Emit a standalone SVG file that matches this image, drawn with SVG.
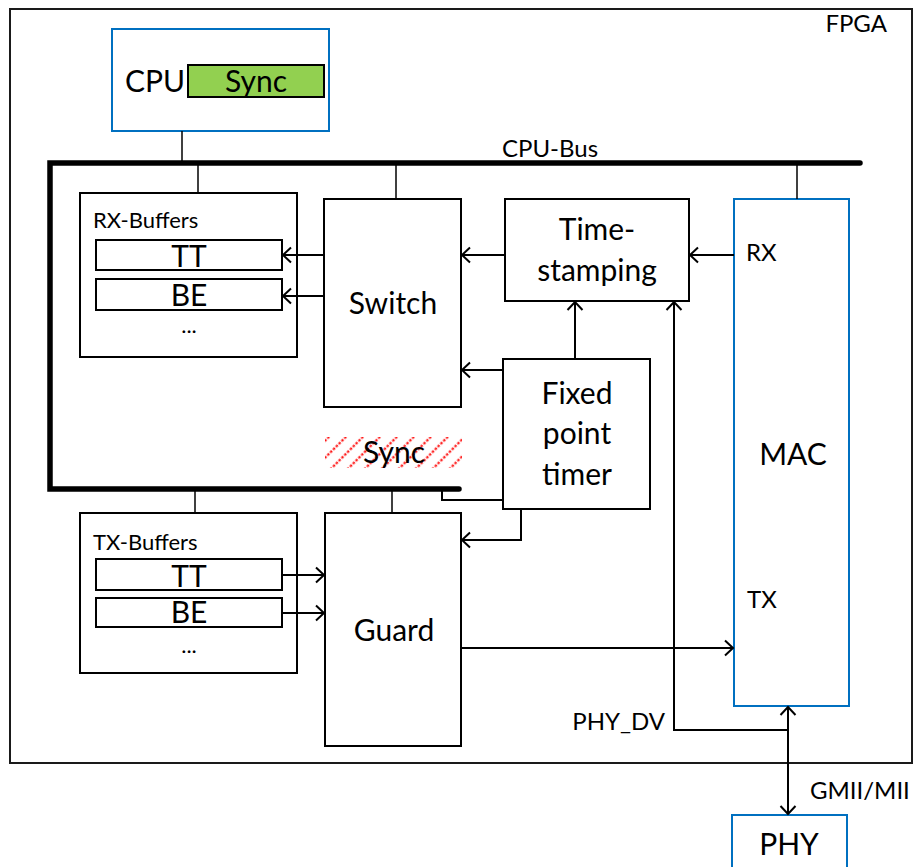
<svg xmlns="http://www.w3.org/2000/svg" width="919" height="867" viewBox="0 0 919 867">
<style>
text{font-family:Lato,"Open Sans","DejaVu Sans",sans-serif;fill:#000}
.big{font-size:30px}
.mid{font-size:24px}
.sm{font-size:22px}
.c{text-anchor:middle}
.box{fill:#fff;stroke:#000;stroke-width:2}
.blue{fill:#fff;stroke:#0070C0;stroke-width:2}
.ln{fill:none;stroke:#000;stroke-width:2}
.thin{fill:none;stroke:#000;stroke-width:1.5}
.arr{marker-end:url(#ah)}
</style>
<defs>
<marker id="ah" markerUnits="userSpaceOnUse" viewBox="-10 -10 12 20" refX="0" refY="0" markerWidth="12" markerHeight="20" orient="auto-start-reverse">
<path d="M-8,-7.5 L0,0 L-8,7.5" fill="none" stroke="#000" stroke-width="2"/>
</marker>
<pattern id="hatch" patternUnits="userSpaceOnUse" width="12" height="12" patternTransform="rotate(45)">
<line x1="1.5" y1="0" x2="1.5" y2="12" stroke="#ff0000" stroke-width="2" stroke-dasharray="2.5 1.5"/>
</pattern>
</defs>

<g id="fpga">
<rect x="10" y="9" width="902" height="754" fill="#fff" stroke="#1a1a1a" stroke-width="2"/>
<text x="887" y="32" class="mid" text-anchor="end">FPGA</text>
</g>

<g id="cpu">
<rect x="112" y="29" width="217" height="102" class="blue"/>
<text x="125" y="92" class="big">CPU</text>
<rect x="188" y="65" width="136" height="32" fill="#92D050" stroke="#000" stroke-width="2"/>
<text x="256" y="92" class="big c">Sync</text>
</g>

<text x="502" y="157" class="mid">CPU-Bus</text>

<g id="rx-buffers">
<rect x="80" y="193" width="217" height="164" class="box"/>
<text x="93" y="228" class="sm">RX-Buffers</text>
<rect x="96" y="240" width="186" height="30" class="box"/>
<text x="189" y="267" class="big c">TT</text>
<rect x="96" y="279" width="186" height="31" class="box"/>
<text x="189" y="306" class="big c">BE</text>
<text x="189" y="333" class="sm c">...</text>
</g>

<g id="switch">
<rect x="324" y="199" width="137" height="208" class="box"/>
<text x="393" y="314" class="big c">Switch</text>
</g>

<g id="timestamping">
<rect x="505" y="199" width="184" height="102" class="box"/>
<text x="597" y="240" class="big c">Time-</text>
<text x="597" y="281" class="big c">stamping</text>
</g>

<g id="fixed-point-timer">
<rect x="503" y="359" width="147" height="150" class="box"/>
<text x="577" y="404" class="big c">Fixed</text>
<text x="577" y="444" class="big c">point</text>
<text x="577" y="485" class="big c">timer</text>
</g>

<g id="sync-hatched">
<rect x="325" y="437" width="137" height="31" fill="url(#hatch)"/>
<text x="394" y="463" class="big c">Sync</text>
</g>

<g id="mac">
<rect x="734" y="199" width="115" height="507" class="blue"/>
<text x="746" y="261" class="mid">RX</text>
<text x="793" y="465" class="big c">MAC</text>
<text x="747" y="608" class="mid">TX</text>
</g>

<g id="tx-buffers">
<rect x="80" y="513" width="217" height="160" class="box"/>
<text x="93" y="550" class="sm">TX-Buffers</text>
<rect x="96" y="559" width="186" height="31" class="box"/>
<text x="189" y="587" class="big c">TT</text>
<rect x="96" y="598" width="186" height="29" class="box"/>
<text x="189" y="623" class="big c">BE</text>
<text x="189" y="653" class="sm c">...</text>
</g>

<g id="guard">
<rect x="325" y="513" width="136" height="233" class="box"/>
<text x="394" y="641" class="big c">Guard</text>
</g>

<g id="phy">
<rect x="732" y="815" width="115" height="60" class="blue"/>
<text x="789" y="855" class="big c">PHY</text>
</g>

<g id="connectors">
<path d="M860,163 H50 V489 H459" fill="none" stroke="#000" stroke-width="5.5" stroke-linecap="round" stroke-linejoin="miter"/>
<path d="M182,131 V163" class="thin"/>
<path d="M198,163 V193" class="thin"/>
<path d="M396,163 V199" class="thin"/>
<path d="M797,163 V199" class="thin"/>
<path d="M195,489 V513" class="thin"/>
<path d="M392,489 V513" class="thin"/>
<path d="M323,255 H283" class="ln arr"/>
<path d="M323,296 H283" class="ln arr"/>
<path d="M505,255 H462" class="ln arr"/>
<path d="M734,255 H690" class="ln arr"/>
<path d="M575,359 V302" class="ln arr"/>
<path d="M503,370 H462" class="ln arr"/>
<path d="M788,730 H674 V302" class="ln arr"/>
<path d="M442,489 V500 H503" class="ln"/>
<path d="M521,509 V540 H462" class="ln arr"/>
<path d="M282,575 H324" class="ln arr"/>
<path d="M282,613 H324" class="ln arr"/>
<path d="M461,648 H733" class="ln arr"/>
<path d="M788,707 V814" class="ln" marker-start="url(#ah)" marker-end="url(#ah)"/>
<text x="665" y="730" class="mid" text-anchor="end">PHY_DV</text>
<text x="810" y="799" class="mid">GMII/MII</text>
</g>
</svg>
